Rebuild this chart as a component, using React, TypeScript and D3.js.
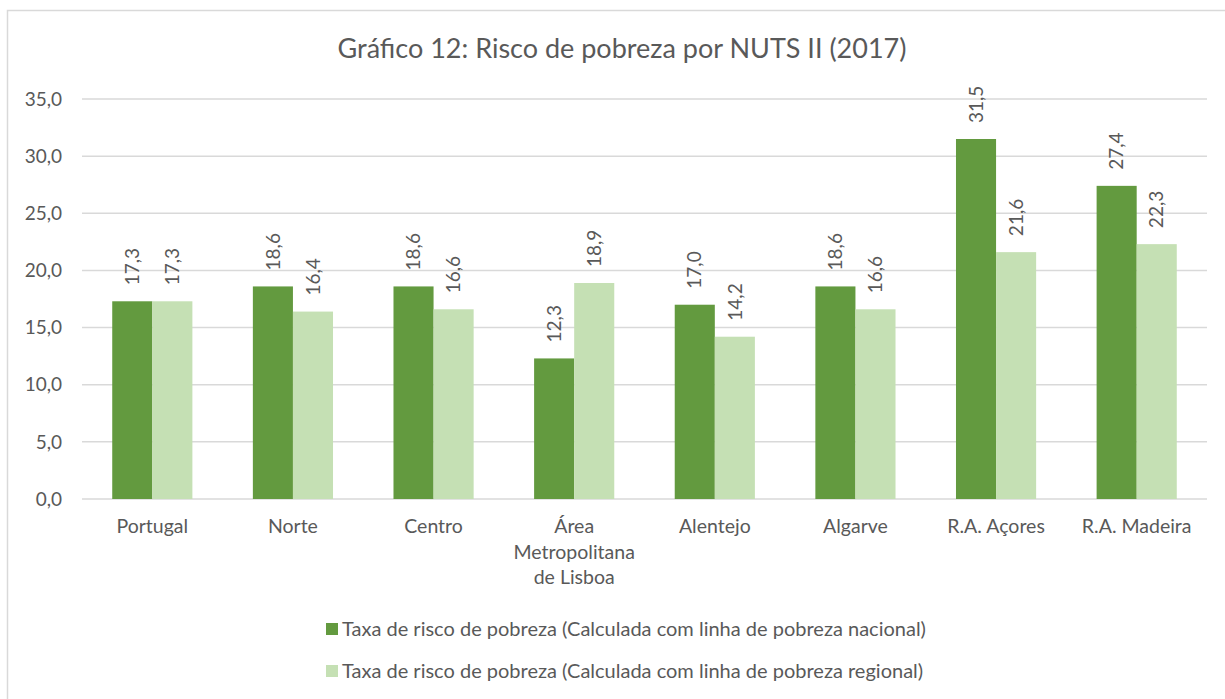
import React, { useEffect, useRef } from 'react'
import * as d3 from 'd3'

const categories = ['Portugal', 'Norte', 'Centro', 'Área Metropolitana de Lisboa', 'Alentejo', 'Algarve', 'R.A. Açores', 'R.A. Madeira']
const nacional = [17.3, 18.6, 18.6, 12.3, 17.0, 18.6, 31.5, 27.4]
const regional = [17.3, 16.4, 16.6, 18.9, 14.2, 16.6, 21.6, 22.3]
const seriesNames = [
    'Taxa de risco de pobreza (Calculada com linha de pobreza nacional)',
    'Taxa de risco de pobreza (Calculada com linha de pobreza regional)',
]
const yTicks = [0, 5, 10, 15, 20, 25, 30, 35]

const colors = ['#639a3f', '#c5e0b4']
const textColor = '#595959'
const font = 'Lato, Carlito, Calibri, sans-serif'

const width = 1225
const height = 699

export default function App() {
    const svgRef = useRef<SVGSVGElement>(null)

    useEffect(() => {
        if (!svgRef.current) return
        const svg = d3.select(svgRef.current)
        svg.selectAll('*').remove()

        const margin = { top: 99, right: 18, bottom: 200, left: 82 }
        const plotW = width - margin.left - margin.right
        const plotH = height - margin.top - margin.bottom

        // chart frame (only top and left show in the picture)
        svg.append('rect')
            .attr('x', 7.5).attr('y', 10.5)
            .attr('width', width + 20).attr('height', height + 20)
            .attr('fill', '#fff').attr('stroke', '#d9d9d9').attr('stroke-width', 1.5)

        svg.append('text')
            .attr('x', 622).attr('y', 58)
            .attr('text-anchor', 'middle')
            .style('font-family', font).style('font-size', '27px').style('fill', textColor)
            .text('Gráfico 12: Risco de pobreza por NUTS II (2017)')

        const x = d3.scaleBand<string>().domain(categories).range([0, plotW]).paddingInner(0.43).paddingOuter(0.215)
        const xs = d3.scaleBand<number>().domain([0, 1]).range([0, x.bandwidth()])
        const y = d3.scaleLinear().domain([0, 35]).range([plotH, 0])

        const g = svg.append('g').attr('transform', `translate(${margin.left},${margin.top})`)

        // gridlines
        g.selectAll('.grid')
            .data(yTicks)
            .enter().append('line')
            .attr('x1', 0).attr('x2', plotW)
            .attr('y1', d => y(d)).attr('y2', d => y(d))
            .attr('stroke', '#d9d9d9').attr('stroke-width', 1.5)

        g.selectAll('.ytick')
            .data(yTicks)
            .enter().append('text')
            .attr('x', -20).attr('y', d => y(d))
            .attr('dy', '0.35em')
            .attr('text-anchor', 'end')
            .style('font-family', font).style('font-size', '19px').style('fill', textColor)
            .text(d => d3.format('.1f')(d).replace('.', ','))

        const series = [nacional, regional]
        series.forEach((vals, si) => {
            const grp = g.append('g')
            grp.selectAll('rect')
                .data(vals)
                .enter().append('rect')
                .attr('x', (d, i) => (x(categories[i]) as number) + (xs(si) as number))
                .attr('y', d => y(d))
                .attr('width', xs.bandwidth())
                .attr('height', d => plotH - y(d))
                .attr('fill', colors[si])

            grp.selectAll('text')
                .data(vals)
                .enter().append('text')
                .attr('transform', (d, i) => {
                    const cx = (x(categories[i]) as number) + (xs(si) as number) + xs.bandwidth() / 2
                    return `translate(${cx},${y(d) - 16}) rotate(-90)`
                })
                .attr('dy', '0.35em')
                .attr('text-anchor', 'start')
                .style('font-family', font).style('font-size', '19px').style('fill', textColor)
                .text(d => d3.format('.1f')(d).replace('.', ','))
        })

        // category labels, wrapped to band width
        const maxW = x.step() - 10
        categories.forEach(c => {
            const cx = (x(c) as number) + x.bandwidth() / 2
            const t = g.append('text')
                .attr('x', cx)
                .attr('y', plotH + 34)
                .attr('text-anchor', 'middle')
                .style('font-family', font).style('font-size', '19.5px').style('fill', textColor)
            const words = c.split(' ')
            let line: string[] = []
            let tspan = t.append('tspan').attr('x', cx).attr('dy', 0)
            words.forEach(w => {
                line.push(w)
                tspan.text(line.join(' '))
                const len = (tspan.node() as SVGTSpanElement).getComputedTextLength()
                if (len > maxW && line.length > 1) {
                    line.pop()
                    tspan.text(line.join(' '))
                    line = [w]
                    tspan = t.append('tspan').attr('x', cx).attr('dy', 25.5).text(w)
                }
            })
        })

        // legend
        seriesNames.forEach((name, i) => {
            const ly = 629 + i * 42
            svg.append('rect')
                .attr('x', 326).attr('y', ly - 6)
                .attr('width', 12).attr('height', 12)
                .attr('fill', colors[i])
            svg.append('text')
                .attr('x', 342).attr('y', ly)
                .attr('dy', '0.35em')
                .style('font-family', font).style('font-size', '20px').style('fill', textColor)
                .text(name)
        })
    }, [])

    return (
        <div style={{ position: 'absolute', left: 0, top: 0 }}>
            <svg ref={svgRef} width={width} height={height} style={{ display: 'block', background: '#fff' }} />
        </div>
    )
}
